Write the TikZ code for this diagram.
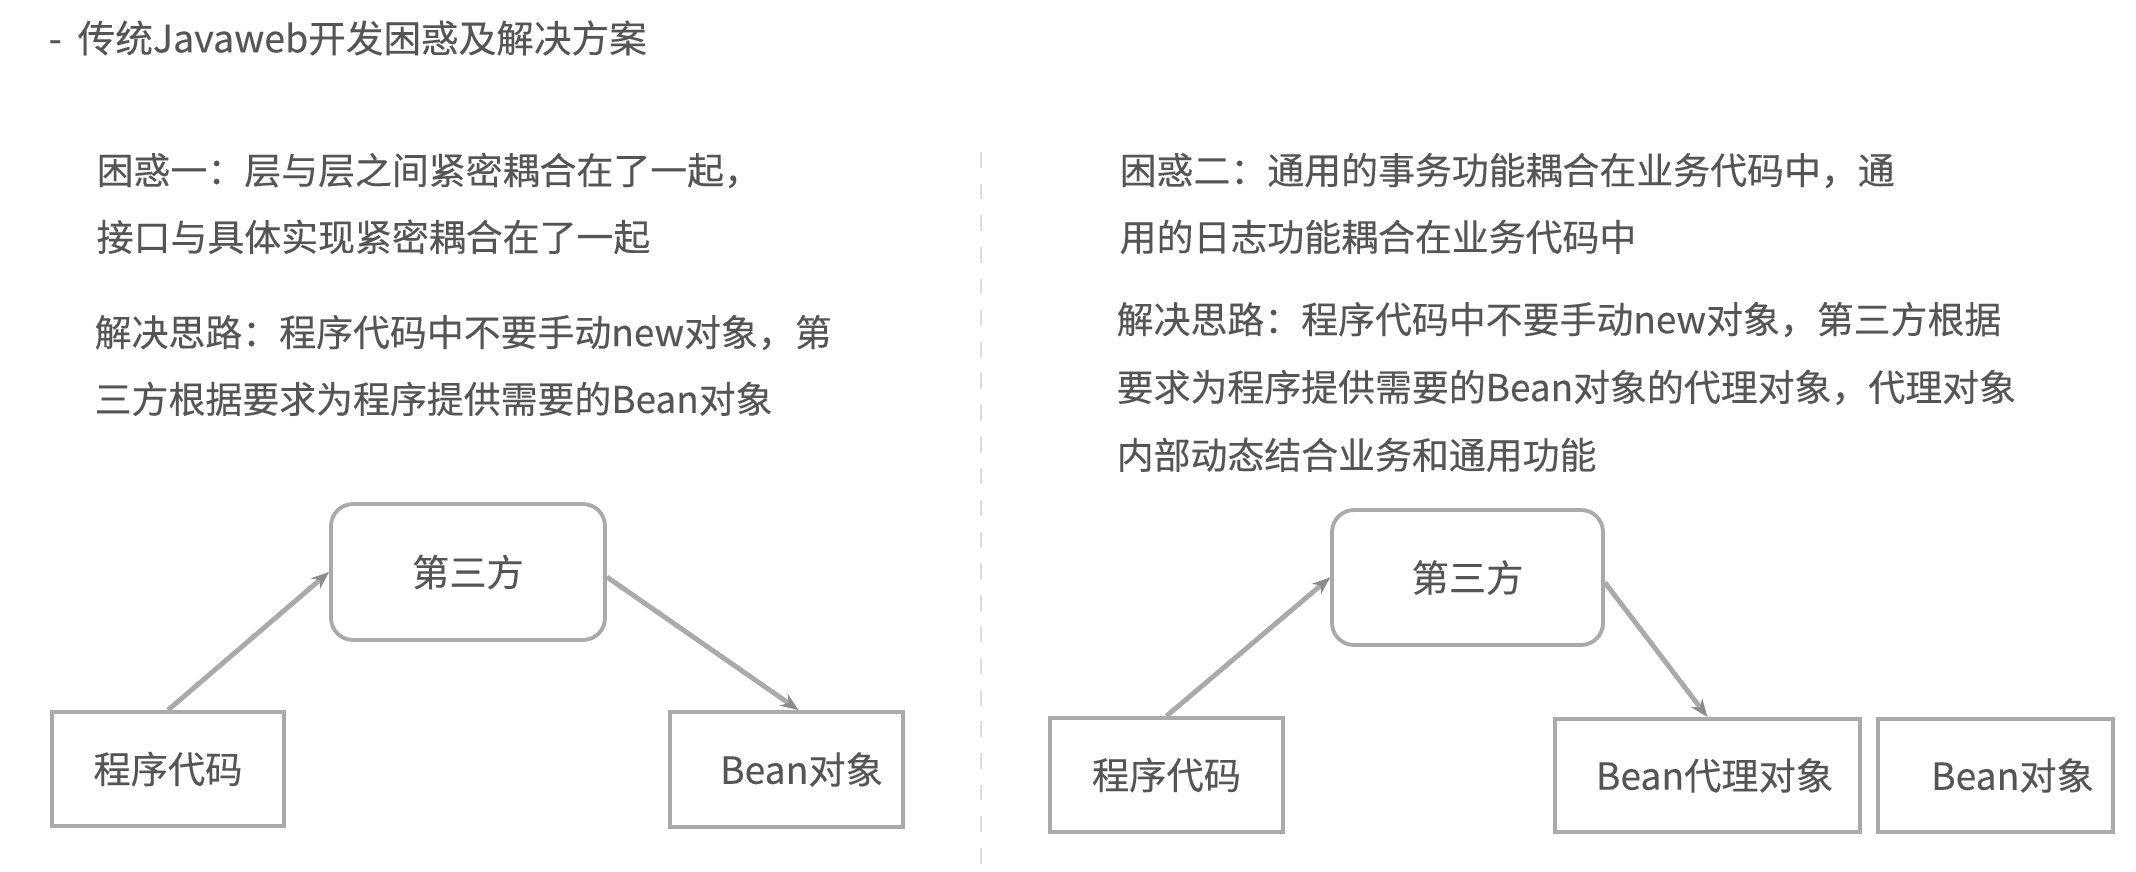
\documentclass[tikz,border=0pt]{standalone}
\usepackage{fontspec}
\setmainfont{Noto Sans CJK SC}[FakeBold=0.25]
\usetikzlibrary{arrows.meta}
\definecolor{ink}{HTML}{555555}
\definecolor{edge}{HTML}{AAAAAA}
\definecolor{tipc}{HTML}{8C8C8C}
\definecolor{sepc}{HTML}{DDDDDD}
\tikzset{sq/.style={rectangle,draw=edge,line width=1.1pt,inner sep=0pt,text=ink,font=\fontsize{10.6}{12}\selectfont},
  rnd/.style={sq,rounded corners=0.22cm},
  txt/.style={anchor=west,inner sep=0pt,text=ink,align=left,font=\fontsize{10.5}{19}\selectfont},
  arr/.style={draw=edge,line width=1.4pt,-{Stealth[length=1.8mm,width=1.4mm,color=tipc]}}}

\begin{document}
\begin{tikzpicture}
    \useasboundingbox (0,0) rectangle (21.36,-8.72);
    \node[txt,font=\fontsize{10.7}{12}\selectfont] (title) at (0.48,-0.38) {-\hspace{0.16cm}传统Javaweb开发困惑及解决方案};

    \node[txt] (q1) at (0.96,-2.035) {困惑一：层与层之间紧密耦合在了一起，\\接口与具体实现紧密耦合在了一起};
    \node[txt] (s1) at (0.94,-3.655) {解决思路：程序代码中不要手动new对象，第\\三方根据要求为程序提供需要的Bean对象};
    \node[txt] (q2) at (11.19,-2.035) {困惑二：通用的事务功能耦合在业务代码中，通\\用的日志功能耦合在业务代码中};
    \node[txt,font=\fontsize{10.5}{19.3}\selectfont] (s2) at (11.16,-3.87) {解决思路：程序代码中不要手动new对象，第三方根据\\要求为程序提供需要的Bean对象的代理对象，代理对象\\内部动态结合业务和通用功能};

    \draw [sepc,line width=0.6pt,dash pattern=on 4.5pt off 4.5pt] (9.81,-1.52) -- (9.81,-8.72);

    \node[rnd,minimum width=2.74cm,minimum height=1.36cm] (third1) at (4.68,-5.72) {第三方};
    \node[sq,minimum width=2.32cm,minimum height=1.14cm] (code1) at (1.68,-7.69) {程序代码};
    \node[sq,minimum width=2.33cm,minimum height=1.15cm] (bean1) at (7.865,-7.695) {\hspace*{0.3cm}Bean对象};

    \node[rnd,minimum width=2.71cm,minimum height=1.35cm] (third2) at (14.675,-5.775) {第三方};
    \node[sq,minimum width=2.33cm,minimum height=1.14cm] (code2) at (11.665,-7.75) {程序代码};
    \node[sq,minimum width=3.05cm,minimum height=1.13cm] (proxy) at (17.075,-7.755) {\hspace*{0.14cm}Bean代理对象};
    \node[sq,minimum width=2.35cm,minimum height=1.13cm] (bean2) at (19.955,-7.755) {\hspace*{0.34cm}Bean对象};

    \draw [arr] (code1.north) to [] (third1.west);
    \draw [arr] ([yshift=-0.05cm]third1.east) to [] ([xshift=0.12cm]bean1.north);
    \draw [arr] (code2.north) to [] (third2.west);
    \draw [arr] ([yshift=-0.05cm]third2.east) to [] (proxy.north);
\end{tikzpicture}
\end{document}
